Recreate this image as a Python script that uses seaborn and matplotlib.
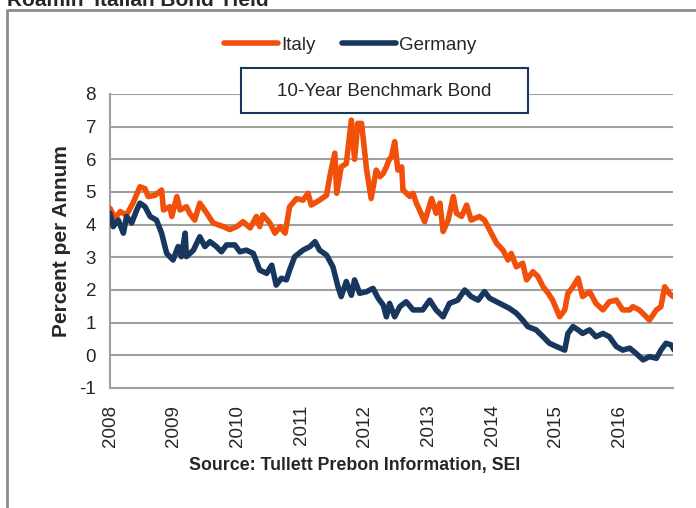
import numpy as np
import pandas as pd
import seaborn as sns
import matplotlib.pyplot as plt
from matplotlib.lines import Line2D
from matplotlib.patches import Rectangle

sns.set_style("white")
plt.rcParams['font.family'] = ['Liberation Sans', 'DejaVu Sans']

# 10-year yields (decimal year, percent)
italy_t = [2008.00, 2008.08, 2008.16, 2008.26, 2008.36, 2008.47, 2008.55, 2008.60, 2008.71, 2008.81,
           2008.84, 2008.94, 2008.97, 2009.05, 2009.10, 2009.20, 2009.25, 2009.33, 2009.41, 2009.52,
           2009.62, 2009.78, 2009.88, 2009.99, 2010.09, 2010.20, 2010.30, 2010.35, 2010.40, 2010.51,
           2010.59, 2010.67, 2010.75, 2010.82, 2010.93, 2011.03, 2011.11, 2011.16, 2011.29, 2011.40,
           2011.45, 2011.53, 2011.56, 2011.63, 2011.71, 2011.79, 2011.84, 2011.89, 2011.95, 2012.03,
           2012.10, 2012.18, 2012.24, 2012.29, 2012.34, 2012.38, 2012.42, 2012.47, 2012.52, 2012.58,
           2012.60, 2012.71, 2012.76, 2012.81, 2012.86, 2012.94, 2013.05, 2013.12, 2013.18, 2013.23,
           2013.31, 2013.39, 2013.44, 2013.52, 2013.60, 2013.67, 2013.80, 2013.88, 2013.96, 2014.07,
           2014.17, 2014.25, 2014.30, 2014.38, 2014.48, 2014.54, 2014.64, 2014.72, 2014.80, 2014.88,
           2014.95, 2015.06, 2015.14, 2015.19, 2015.27, 2015.35, 2015.42, 2015.53, 2015.63, 2015.74,
           2015.84, 2015.95, 2016.05, 2016.16, 2016.21, 2016.31, 2016.42, 2016.47, 2016.58, 2016.65,
           2016.71, 2016.78, 2016.84]
italy_y = [4.50, 4.20, 4.40, 4.30, 4.66, 5.16, 5.10, 4.86, 4.90, 5.06,
           4.45, 4.55, 4.25, 4.86, 4.45, 4.55, 4.35, 4.14, 4.66, 4.35,
           4.05, 3.94, 3.85, 3.94, 4.09, 3.90, 4.25, 3.94, 4.30, 4.05,
           3.74, 3.94, 3.74, 4.55, 4.80, 4.75, 4.96, 4.60, 4.75, 4.90,
           5.47, 6.19, 4.96, 5.77, 5.87, 7.20, 6.00, 7.10, 7.10, 5.67,
           4.80, 5.67, 5.47, 5.57, 5.77, 5.98, 6.08, 6.54, 5.67, 5.77,
           5.06, 4.86, 4.96, 4.66, 4.45, 4.09, 4.80, 4.35, 4.66, 3.79,
           4.14, 4.86, 4.35, 4.25, 4.60, 4.14, 4.25, 4.14, 3.84, 3.43,
           3.22, 2.92, 3.12, 2.71, 2.82, 2.31, 2.56, 2.41, 2.10, 1.90,
           1.69, 1.18, 1.39, 1.90, 2.10, 2.36, 1.80, 1.95, 1.59, 1.39,
           1.64, 1.69, 1.39, 1.39, 1.49, 1.39, 1.18, 1.08, 1.39, 1.49,
           2.10, 1.90, 1.80]

germany_t = [2008.00, 2008.05, 2008.13, 2008.21, 2008.26, 2008.34, 2008.42, 2008.47, 2008.55, 2008.63,
             2008.73, 2008.81, 2008.89, 2008.99, 2009.07, 2009.12, 2009.18, 2009.20, 2009.31, 2009.41,
             2009.49, 2009.57, 2009.67, 2009.75, 2009.83, 2009.96, 2010.04, 2010.14, 2010.25, 2010.35,
             2010.46, 2010.54, 2010.61, 2010.69, 2010.77, 2010.82, 2010.90, 2011.03, 2011.14, 2011.22,
             2011.29, 2011.40, 2011.50, 2011.58, 2011.63, 2011.71, 2011.79, 2011.84, 2011.92, 2012.03,
             2012.13, 2012.21, 2012.29, 2012.34, 2012.39, 2012.47, 2012.55, 2012.65, 2012.76, 2012.91,
             2013.02, 2013.12, 2013.23, 2013.33, 2013.46, 2013.57, 2013.67, 2013.78, 2013.88, 2013.96,
             2014.12, 2014.27, 2014.38, 2014.48, 2014.56, 2014.69, 2014.80, 2014.90, 2015.01, 2015.14,
             2015.19, 2015.27, 2015.35, 2015.42, 2015.53, 2015.63, 2015.74, 2015.84, 2015.95, 2016.05,
             2016.16, 2016.26, 2016.37, 2016.47, 2016.58, 2016.65, 2016.73, 2016.81, 2016.86]
germany_y = [4.35, 3.94, 4.14, 3.74, 4.25, 4.05, 4.45, 4.66, 4.55, 4.25,
             4.14, 3.74, 3.12, 2.92, 3.33, 3.02, 3.74, 3.02, 3.22, 3.63,
             3.33, 3.48, 3.33, 3.17, 3.38, 3.38, 3.17, 3.22, 3.12, 2.61,
             2.51, 2.76, 2.15, 2.36, 2.31, 2.61, 3.02, 3.22, 3.33, 3.48,
             3.22, 3.07, 2.71, 2.10, 1.80, 2.26, 1.84, 2.31, 1.90, 1.95,
             2.05, 1.75, 1.54, 1.18, 1.59, 1.18, 1.49, 1.64, 1.39, 1.39,
             1.69, 1.39, 1.18, 1.59, 1.69, 2.00, 1.80, 1.69, 1.95, 1.75,
             1.59, 1.44, 1.29, 1.08, 0.88, 0.78, 0.57, 0.37, 0.27, 0.16,
             0.67, 0.88, 0.78, 0.67, 0.78, 0.57, 0.67, 0.57, 0.27, 0.16,
             0.22, 0.06, -0.14, -0.04, -0.09, 0.16, 0.37, 0.32, 0.16]

years = list(range(2008, 2017))
y_ticks = list(range(-1, 9))

df = pd.concat([
    pd.DataFrame({'date': italy_t, 'yield': italy_y, 'country': 'Italy'}),
    pd.DataFrame({'date': germany_t, 'yield': germany_y, 'country': 'Germany'}),
])

orange = '#F0500A'
navy = '#17375E'
grid_gray = '#A0A0A0'

fig = plt.figure(figsize=(6.96, 5.08), dpi=100)
ax = fig.add_axes([110 / 696, 1 - 388 / 508, 563 / 696, 294 / 508])

sns.lineplot(data=df, x='date', y='yield', hue='country',
             palette={'Italy': orange, 'Germany': navy},
             linewidth=4.0, ax=ax, legend=False, zorder=3)

ax.set_xlim(2008, 2016.84)
ax.set_ylim(-1, 8)
ax.set_yticks(y_ticks)
ax.set_yticklabels([str(v) for v in y_ticks], fontsize=13.5)
ax.set_xticks(years)
ax.set_xticklabels([str(y) for y in years], rotation=90, fontsize=13.5)
ax.tick_params(axis='y', length=6, width=1.5, color=grid_gray, pad=4)
ax.tick_params(axis='x', length=0, pad=12)
ax.yaxis.grid(True, color=grid_gray, linewidth=1.5)
ax.set_axisbelow(True)
for side in ['top', 'right']:
    ax.spines[side].set_visible(False)
for side in ['left', 'bottom']:
    ax.spines[side].set_color(grid_gray)
    ax.spines[side].set_linewidth(1.5)

ax.set_ylabel('Percent per Annum', fontsize=15, fontweight='bold', labelpad=6)
ax.set_xlabel('Source: Tullett Prebon Information, SEI', fontsize=12.8, fontweight='bold')
ax.xaxis.set_label_coords((355 - 110) / 563, -0.235)

# legend
handles = [Line2D([0], [0], color=orange, lw=4), Line2D([0], [0], color=navy, lw=4)]
fig.legend(handles, ['Italy', 'Germany'], loc='center', bbox_to_anchor=(350 / 696, 1 - 45 / 508),
           ncol=2, frameon=False, fontsize=13.5, handlelength=2.9, handletextpad=0.15,
           columnspacing=1.4)

# box label
fig.patches.append(Rectangle((241 / 696, 1 - 113 / 508), 287 / 696, 45 / 508,
                             transform=fig.transFigure, facecolor='white', edgecolor=navy,
                             linewidth=1.5, zorder=5))
fig.text(384.5 / 696, 1 - 91 / 508, '10-Year Benchmark Bond', ha='center', va='center',
         fontsize=13.5, zorder=6)

# outer frame and title (clipped at the top edge, as in the source)
fig.add_artist(Line2D([7 / 696, 7 / 696, 1], [0, 1 - 10 / 508, 1 - 10 / 508],
                      transform=fig.transFigure, color='#8C8C8C', lw=2))
fig.text(7 / 696, 1 - 6 / 508, "Roamin' Italian Bond Yield", ha='left', va='baseline',
         fontsize=15, fontweight='bold')

fig.savefig('out.png', dpi=100)
